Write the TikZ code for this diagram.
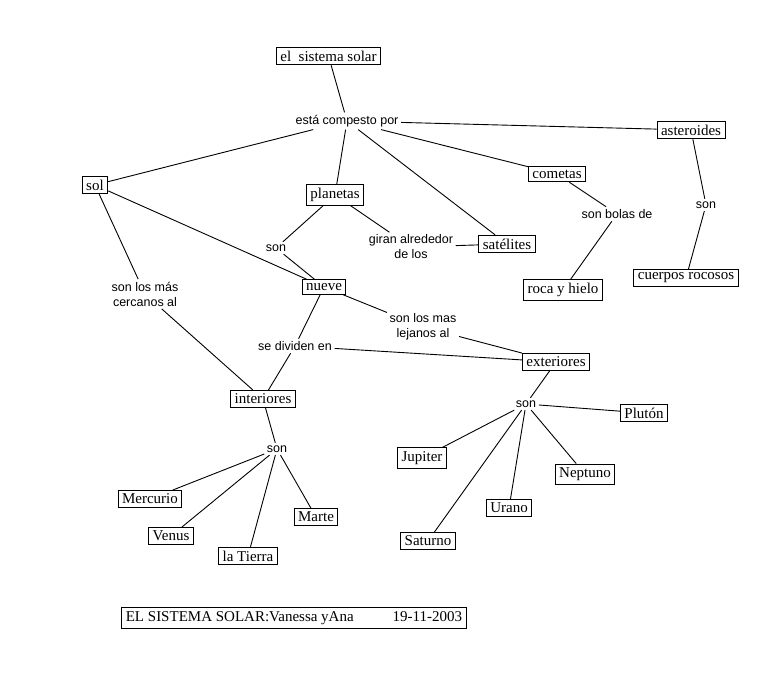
\documentclass[tikz,border=0pt]{standalone}
\usepackage{fontspec}
\setmainfont{Liberation Serif}
\newfontfamily\etiqfont{Liberation Sans}

\begin{document}
\begin{tikzpicture}[x=1pt,y=-1pt
,pstyle0/.style={draw=black,line width=0.9pt,inner xsep=4pt,inner ysep=3.5pt,font=\fontsize{15}{16}\selectfont}
,pstyle1/.style={inner sep=2.5pt,align=center,font=\etiqfont\fontsize{12.5}{15}\selectfont}
,pstyle2/.style={color=black,line width=0.9pt}
]
\useasboundingbox (0,0) rectangle (781,672);
\node[pstyle0] (sistema) at (328.5,56) {el\ \ sistema solar};
\node[pstyle1] (compuesto) at (347,121) {está compesto por};
\node[pstyle0] (asteroides) at (691,130) {asteroides};
\node[pstyle0] (sol) at (95,185) {sol};
\node[pstyle0] (planetas) at (335,195) {planetas};
\node[pstyle0] (cometas) at (557,174) {cometas};
\node[pstyle1] (bolas) at (617,214) {son bolas de};
\node[pstyle1] (sonast) at (706,205) {son};
\node[pstyle1] (sonpla) at (276,248) {son};
\node[pstyle1] (giran) at (411,247) {giran alrededor\\de los};
\node[pstyle0] (satelites) at (507,244) {satélites};
\node[pstyle0] (roca) at (563,290) {roca y hielo};
\node[pstyle0] (cuerpos) at (686,278) {cuerpos rocosos};
\node[pstyle1] (cercanos) at (145,294) {son los más\\cercanos al};
\node[pstyle0] (nueve) at (324,287) {nueve};
\node[pstyle1] (lejanos) at (423,327) {son los mas\\lejanos al};
\node[pstyle1] (dividen) at (295,346) {se dividen en};
\node[pstyle0] (exteriores) at (556,362) {exteriores};
\node[pstyle0] (interiores) at (263,399) {interiores};
\node[pstyle1] (sonext) at (526,404) {son};
\node[pstyle0] (pluton) at (644,413) {Plutón};
\node[pstyle1] (sonint) at (277,449) {son};
\node[pstyle0] (jupiter) at (422,458) {Jupiter};
\node[pstyle0] (neptuno) at (585,474) {Neptuno};
\node[pstyle0] (mercurio) at (150,499) {Mercurio};
\node[pstyle0] (marte) at (316,517) {Marte};
\node[pstyle0] (urano) at (509,508) {Urano};
\node[pstyle0] (venus) at (171,536) {Venus};
\node[pstyle0] (saturno) at (428,541) {Saturno};
\node[pstyle0] (tierra) at (248,556) {la Tierra};
\node[pstyle0] (pie) at (294,618) {EL SISTEMA SOLAR:Vanessa yAna\hspace{2.6em}19-11-2003};
\draw[pstyle2] (sistema) -- (compuesto);
\draw[pstyle2] (compuesto) -- (sol);
\draw[pstyle2] (compuesto) -- (planetas);
\draw[pstyle2] (compuesto) -- (satelites);
\draw[pstyle2] (compuesto) -- (cometas);
\draw[pstyle2] (compuesto) -- (asteroides);
\draw[pstyle2] (asteroides) -- (sonast);
\draw[pstyle2] (sonast) -- (cuerpos);
\draw[pstyle2] (cometas) -- (bolas);
\draw[pstyle2] (bolas) -- (roca);
\draw[pstyle2] (planetas) -- (sonpla);
\draw[pstyle2] (sonpla) -- (nueve);
\draw[pstyle2] (planetas) -- (giran);
\draw[pstyle2] (giran) -- (satelites);
\draw[pstyle2] (sol) -- (nueve);
\draw[pstyle2] (sol) -- (cercanos);
\draw[pstyle2] (cercanos) -- (interiores);
\draw[pstyle2] (nueve) -- (lejanos);
\draw[pstyle2] (lejanos) -- (exteriores);
\draw[pstyle2] (nueve) -- (dividen);
\draw[pstyle2] (dividen) -- (interiores);
\draw[pstyle2] (dividen) -- (exteriores);
\draw[pstyle2] (interiores) -- (sonint);
\draw[pstyle2] (sonint) -- (mercurio);
\draw[pstyle2] (sonint) -- (venus);
\draw[pstyle2] (sonint) -- (tierra);
\draw[pstyle2] (sonint) -- (marte);
\draw[pstyle2] (exteriores) -- (sonext);
\draw[pstyle2] (sonext) -- (pluton);
\draw[pstyle2] (sonext) -- (jupiter);
\draw[pstyle2] (sonext) -- (saturno);
\draw[pstyle2] (sonext) -- (urano);
\draw[pstyle2] (sonext) -- (neptuno);
\end{tikzpicture}
\end{document}
